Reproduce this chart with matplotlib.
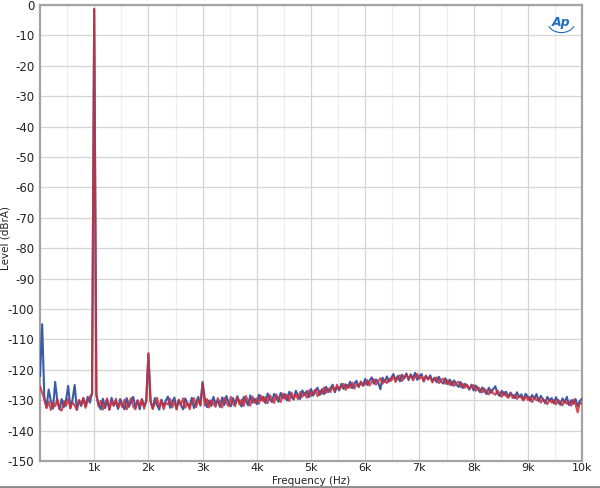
import numpy as np
import matplotlib
matplotlib.use("Agg")
import matplotlib.pyplot as plt
from matplotlib.lines import Line2D
from matplotlib.patches import Arc

# ---- data ----
freq_step_hz = 40
freq_max_hz = 10000

blue_db = [
    -122.0, -105.0, -129.0, -132.4, -126.5, -130.2, -132.8, -124.0, -130.4, -133.0,
    -129.6, -132.3, -130.0, -125.3, -132.6, -129.8, -125.0, -133.1, -130.2, -131.9,
    -129.4, -132.0, -128.9, -130.8, -127.6, -1.3, -128.0, -131.4, -133.0, -129.5,
    -132.6, -130.0, -133.1, -129.2, -131.8, -130.3, -132.9, -129.6, -131.5, -133.0,
    -129.3, -132.2, -130.5, -128.9, -132.4, -130.1, -133.0, -129.7, -131.9, -130.2,
    -114.8, -130.4, -132.7, -129.3, -131.6, -133.1, -129.8, -132.0, -130.2, -128.8,
    -132.5, -130.6, -129.1, -132.8, -130.0, -131.7, -133.0, -129.4, -131.3, -132.1,
    -129.2, -132.6, -130.7, -128.9, -131.8, -124.0, -129.4, -132.3, -130.1, -131.9,
    -128.9, -131.4, -130.0, -132.2, -129.1, -131.6, -128.6, -130.9, -132.0, -129.3,
    -131.2, -128.7, -130.5, -132.1, -128.9, -130.3, -131.7, -128.4, -130.8, -129.5,
    -131.3, -128.2, -130.0, -128.9, -131.0, -127.8, -129.7, -130.6, -127.9, -129.2,
    -130.5, -127.6, -129.4, -128.0, -130.1, -127.2, -128.9, -129.8, -126.9, -128.5,
    -129.6, -126.8, -128.2, -127.0, -129.0, -126.3, -128.5, -127.1, -125.9, -128.3,
    -126.4, -128.0, -125.6, -127.3, -126.0, -124.9, -127.4, -125.5, -126.8, -124.6,
    -126.3, -124.8, -125.9, -123.9, -126.0, -124.5, -123.6, -125.7, -124.2, -125.1,
    -123.0, -125.0, -123.6, -122.5, -124.6, -123.2, -124.1, -126.4, -122.6, -124.0,
    -122.2, -123.9, -122.7, -121.4, -123.5, -122.0, -123.8, -121.6, -122.9, -121.2,
    -123.4, -121.5, -122.8, -121.0, -123.3, -122.1, -121.4, -123.6, -122.0, -123.2,
    -121.8, -123.7, -122.6, -124.1, -122.3, -123.9, -124.5, -122.8, -124.7, -123.2,
    -125.1, -123.5, -124.8, -125.6, -124.0, -126.0, -124.6, -125.3, -126.5, -124.9,
    -126.8, -125.2, -126.3, -127.4, -125.8, -127.0, -128.0, -125.9, -127.6, -126.4,
    -125.4, -127.8, -128.6, -126.9, -128.3, -127.2, -129.0, -127.5, -128.4, -129.3,
    -127.4, -129.0, -128.1, -129.8, -127.9, -128.8, -130.2, -128.3, -129.5, -128.0,
    -130.3, -128.6, -129.7, -131.0, -128.9, -130.2, -129.3, -131.1, -129.0, -130.6,
    -131.5, -129.4, -130.8, -128.9, -131.6, -130.0, -131.2, -129.6, -131.9, -130.3,
    -129.5,
]

red_db = [
    -125.5, -127.5, -129.8, -132.6, -130.5, -133.2, -130.8, -132.0, -129.6, -132.9,
    -133.4, -130.3, -131.9, -129.5, -132.7, -130.6, -131.8, -133.2, -129.9, -131.4,
    -129.2, -132.5, -130.1, -128.8, -128.0, -1.3, -128.6, -132.0, -130.2, -133.1,
    -131.0, -129.4, -133.2, -130.4, -131.8, -129.5, -132.6, -130.7, -132.3, -129.8,
    -133.0, -130.9, -129.3, -132.1, -133.0, -130.0, -131.9, -129.6, -132.8, -130.5,
    -114.5, -130.2, -132.9, -131.0, -129.2, -132.2, -130.1, -133.0, -130.9, -131.4,
    -129.5, -132.4, -130.5, -133.1, -129.8, -131.6, -129.4, -132.5, -130.8, -133.0,
    -130.3, -129.3, -132.3, -130.0, -131.5, -124.5, -131.8, -129.6, -132.4, -130.0,
    -131.3, -132.2, -129.3, -131.0, -132.4, -129.2, -130.9, -132.0, -128.9, -131.2,
    -132.0, -129.0, -131.4, -129.8, -131.9, -128.6, -130.5, -131.8, -128.8, -130.9,
    -129.4, -131.2, -128.5, -130.4, -129.0, -131.0, -128.3, -129.6, -130.9, -128.1,
    -129.5, -130.6, -127.8, -129.6, -128.2, -130.3, -127.5, -129.4, -128.1, -129.7,
    -127.3, -128.9, -127.7, -129.2, -126.8, -128.6, -127.4, -126.5, -128.7, -126.9,
    -127.9, -125.8, -127.6, -126.2, -127.3, -125.4, -126.9, -124.9, -126.5, -125.6,
    -124.6, -126.6, -125.0, -125.9, -124.2, -126.2, -124.7, -125.4, -123.8, -125.3,
    -124.6, -123.4, -125.2, -124.0, -123.1, -124.9, -123.7, -122.8, -124.6, -123.3,
    -124.4, -122.9, -123.6, -122.1, -124.0, -122.6, -121.8, -123.7, -122.3, -121.6,
    -122.9, -121.7, -123.5, -122.4, -121.3, -123.0, -122.2, -123.9, -121.9, -123.1,
    -122.4, -124.2, -123.0, -122.5, -124.4, -123.4, -122.9, -124.6, -123.5, -125.0,
    -123.8, -125.3, -124.4, -123.9, -125.7, -124.6, -125.9, -124.9, -126.3, -125.5,
    -125.0, -126.9, -125.7, -126.4, -127.5, -126.2, -127.1, -128.1, -126.5, -127.7,
    -128.2, -126.8, -127.9, -128.9, -127.3, -128.6, -129.2, -127.8, -129.3, -128.2,
    -129.6, -128.5, -129.2, -130.1, -128.7, -129.9, -128.9, -130.6, -129.1, -130.0,
    -129.4, -130.8, -129.6, -130.3, -131.3, -129.7, -130.8, -130.0, -131.4, -129.9,
    -130.6, -131.7, -130.1, -131.2, -130.5, -131.8, -129.8, -131.3, -134.0, -130.7,
    -131.2,
]

x_ticks_hz = [1000, 2000, 3000, 4000, 5000, 6000, 7000, 8000, 9000, 10000]
x_tick_labels = ["1k", "2k", "3k", "4k", "5k", "6k", "7k", "8k", "9k", "10k"]
y_ticks_db = list(range(-150, 1, 10))

freqs = np.arange(0, freq_max_hz + 1, freq_step_hz)

# ---- figure ----
fig = plt.figure(figsize=(6.0, 4.88), dpi=100)
ax = fig.add_axes([40 / 600, 1 - 461 / 488, 542 / 600, 456 / 488])

blue_c = "#3a5ba8"
red_c = "#c92f3c"
ax.plot(freqs, blue_db, color=blue_c, lw=1.5, zorder=3)
ax.plot(freqs, red_db, color=red_c, lw=1.5, alpha=0.85, zorder=4)

ax.set_xlim(0, freq_max_hz)
ax.set_ylim(-150, 0)
ax.set_xticks(x_ticks_hz)
ax.set_xticklabels(x_tick_labels)
ax.set_xticks(np.arange(500, freq_max_hz, 1000), minor=True)
ax.set_yticks(y_ticks_db)
ax.set_yticklabels([str(v) for v in y_ticks_db])

ax.grid(which="major", color="#d4d4d4", lw=0.9, zorder=0)
ax.grid(which="minor", axis="x", color="#eeeeee", lw=0.9, zorder=0)
ax.set_axisbelow(True)
ax.tick_params(which="both", length=0, labelsize=8.5, colors="#222222")
ax.tick_params(axis="y", pad=4)
ax.tick_params(axis="x", pad=1.5, labelsize=8)

for s in ax.spines.values():
    s.set_color("#a4a4a4")
    s.set_linewidth(1.6)

ax.set_ylabel("Level (dBrA)", fontsize=7.5, color="#222222")
ax.yaxis.set_label_coords(-29 / 542, 0.49)
ax.set_xlabel("Frequency (Hz)", fontsize=7.5, color="#222222")
ax.xaxis.set_label_coords(0.5, -15.5 / 456)

# AP logo
ax.text(0.962, 0.962, "Ap", transform=ax.transAxes, color="#1e6cc0",
        fontsize=9, fontstyle="italic", fontweight="bold", ha="center", va="center")
ax.add_patch(Arc((0.962, 0.962), 0.05, 0.045, theta1=200, theta2=340,
                 transform=ax.transAxes, color="#1e6cc0", lw=0.8))

# bottom separator line
fig.add_artist(Line2D([0, 1], [1 - 486.5 / 488, 1 - 486.5 / 488], color="#8a8a8a", lw=2.0))

fig.savefig("out.png", dpi=100, facecolor="white")
